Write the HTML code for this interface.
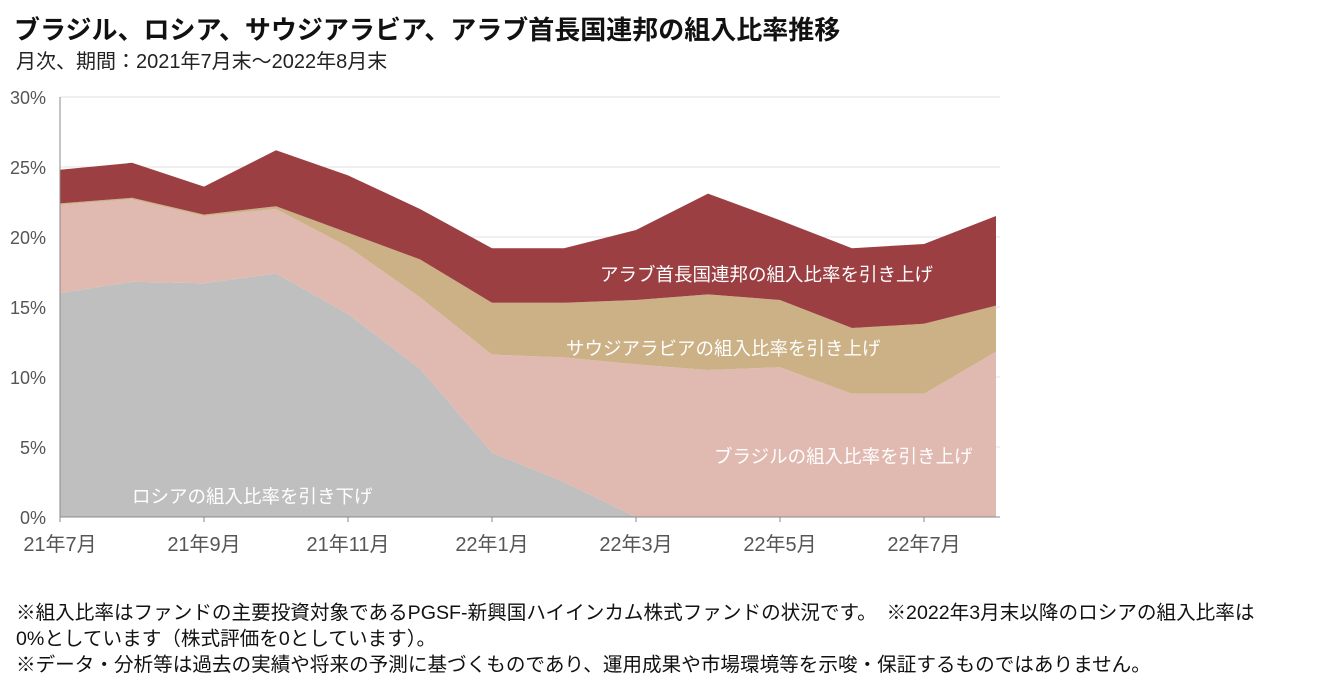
<!DOCTYPE html>
<html><head><meta charset="utf-8"><style>
body{margin:0;background:#fff;width:1323px;height:690px;overflow:hidden;font-family:"Liberation Sans","Noto Sans CJK JP",sans-serif;color:#222}
#title{position:absolute;left:14px;top:10px;font-size:26px;font-weight:bold;color:#111}
#sub{position:absolute;left:16px;top:45px;font-size:20px;color:#222}
.note{position:absolute;left:16px;font-size:19.6px;color:#111;white-space:nowrap}
svg{position:absolute;left:0;top:0}
</style></head><body>
<div id="title">ブラジル、ロシア、サウジアラビア、アラブ首長国連邦の組入比率推移</div>
<div id="sub">月次、期間：2021年7月末～2022年8月末</div>
<svg id="chart" width="1323" height="690"></svg>
<div class="note" style="top:596px">※組入比率はファンドの主要投資対象であるPGSF-新興国ハイインカム株式ファンドの状況です。　※2022年3月末以降のロシアの組入比率は</div>
<div class="note" style="top:622px">0%としています（株式評価を0としています）。</div>
<div class="note" style="top:648px">※データ・分析等は過去の実績や将来の予測に基づくものであり、運用成果や市場環境等を示唆・保証するものではありません。</div>
<script>
const months=["21年7月","21年8月","21年9月","21年10月","21年11月","21年12月","22年1月","22年2月","22年3月","22年4月","22年5月","22年6月","22年7月","22年8月"];
const tickLabels=["21年7月","21年9月","21年11月","22年1月","22年3月","22年5月","22年7月"];
const yTicks=[0,5,10,15,20,25,30];
const russia=[16.0,16.8,16.7,17.4,14.5,10.6,4.6,2.5,0,0,0,0,0,0];
const brazil=[6.3,5.9,4.8,4.6,4.8,5.1,7.0,8.9,10.9,10.5,10.7,8.8,8.8,11.8];
const saudi=[0.1,0.1,0.1,0.2,1.0,2.7,3.7,3.9,4.6,5.4,4.8,4.7,5.0,3.3];
const uae=[2.4,2.5,2.0,4.0,4.1,3.6,3.9,3.9,5.0,7.2,5.7,5.7,5.7,6.4];
const series=[["russia",russia,"#bfbfbf"],["brazil",brazil,"#e0b9b0"],["saudi",saudi,"#cbb185"],["uae",uae,"#9c3f43"]];
const svg=document.getElementById('chart');const NS="http://www.w3.org/2000/svg";
const X0=60,X1=996,Y0=517,Y1=97;
const x=i=>X0+(X1-X0)*i/(months.length-1);
const y=v=>Y0-(Y0-Y1)*v/30;
function mk(t,a){const e=document.createElementNS(NS,t);for(const k in a)e.setAttribute(k,a[k]);svg.appendChild(e);return e;}
yTicks.forEach(v=>{
 if(v>0){const g=mk('line',{x1:X0,x2:1000,y1:y(v),y2:y(v),stroke:'#e0e0e0','stroke-width':1});
 
 }
 const t=mk('text',{x:46,y:y(v)+7,'text-anchor':'end','font-size':18,fill:'#555'});t.textContent=v+'%';
 
 
});
let base=months.map(()=>0);
series.forEach(([name,vals,col])=>{
 const top=base.map((b,i)=>b+vals[i]);
 let d='M'+x(0)+','+y(top[0]);
 for(let i=1;i<top.length;i++)d+='L'+x(i)+','+y(top[i]);
 for(let i=base.length-1;i>=0;i--)d+='L'+x(i)+','+y(base[i]);
 const p=mk('path',{d:d+'Z',fill:col});
 
 
 base=top;
});
const ax=mk('line',{x1:X0,x2:X0,y1:Y1,y2:Y0,stroke:'#888'});


const bx=mk('line',{x1:X0,x2:1000,y1:Y0,y2:Y0,stroke:'#888'});


tickLabels.forEach(l=>{
 const i=months.indexOf(l);
 const tk=mk('line',{x1:x(i),x2:x(i),y1:Y0,y2:Y0+5,stroke:'#888'});
 
 
 const t=mk('text',{x:x(i),y:551,'text-anchor':'middle','font-size':20,fill:'#555'});t.textContent=l;
 
 
});
[["アラブ首長国連邦の組入比率を引き上げ",600,281,"label-uae"],["サウジアラビアの組入比率を引き上げ",566,355,"label-saudi"],["ブラジルの組入比率を引き上げ",714,463,"label-brazil"],["ロシアの組入比率を引き下げ",132,503,"label-russia"]].forEach(([s,lx,ly,n])=>{
 const t=mk('text',{x:lx,y:ly,'font-size':18.5,fill:'#fff'});t.textContent=s;
 
 
});
</script>
</body></html>
